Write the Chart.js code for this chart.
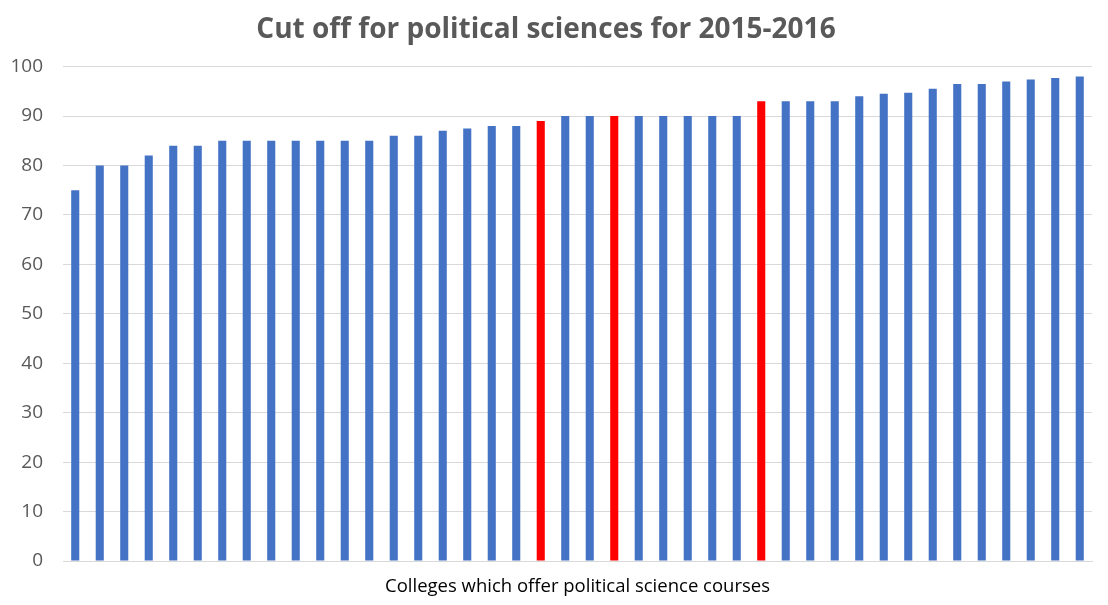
<!DOCTYPE html>
<html>
<head>
<meta charset="utf-8">
<script src="https://cdn.jsdelivr.net/npm/chart.js@4"></script>
<style>
  html, body { margin: 0; padding: 0; background: #fff; }
  #wrap { width: 1108px; height: 605px; }
</style>
</head>
<body>
<div id="wrap"><canvas id="cutoff-canvas" width="1108" height="605"></canvas></div>
<script>
// cut off marks, one bar per college (sorted low to high)
var cutoffs = [75, 80, 80, 82, 84, 84, 85, 85, 85, 85, 85, 85, 85, 86, 86, 87, 87.5, 88, 88,
               89, 90, 90, 90, 90, 90, 90, 90, 90, 93, 93, 93, 93, 94, 94.5, 94.7, 95.5,
               96.5, 96.5, 97, 97.4, 97.7, 98]
// colleges picked out in red
var highlighted = [19, 22, 28]
var yTicks = [0, 10, 20, 30, 40, 50, 60, 70, 80, 90, 100]

function get_label_list(values) {
    labelList = []
    for (let i = 0; i < values.length; i++) {
        labelList.push('College ' + (i + 1))
    }
    return labelList
}

function get_color_list(values) {
    colorList = []
    for (let i = 0; i < values.length; i++) {
        colorList.push(highlighted.indexOf(i) >= 0 ? '#FF0000' : '#4472C4')
    }
    return colorList
}

var ctx = document.getElementById('cutoff-canvas').getContext('2d');
var myChart = new Chart(ctx, {
    type: 'bar',
    data: {
        labels: get_label_list(cutoffs),
        datasets: [{
            label: 'Cut off',
            data: cutoffs,
            backgroundColor: get_color_list(cutoffs),
            barPercentage: 0.33,
            categoryPercentage: 1.0
        }]
    },
    options: {
        responsive: false,
        animation: false,
        layout: { padding: { left: 0, right: 16, top: 0, bottom: 3 } },
        plugins: {
            legend: { display: false },
            tooltip: { enabled: false },
            title: {
                display: true,
                text: 'Cut off for political sciences for 2015-2016',
                color: '#595959',
                font: { family: 'Open Sans', size: 28, weight: 'bold' },
                padding: { top: 13, bottom: 20 }
            }
        },
        scales: {
            x: {
                grid: { display: false },
                border: { color: '#d9d9d9' },
                ticks: { display: false },
                title: {
                    display: true,
                    text: 'Colleges which offer political science courses',
                    color: '#000000',
                    font: { family: 'Open Sans', size: 18.5 }
                },
                afterFit: function (scale) { scale.height = 41 }
            },
            y: {
                min: 0,
                max: 100,
                afterBuildTicks: function (scale) {
                    scale.ticks = yTicks.map(function (v) { return { value: v } })
                },
                grid: { color: '#d9d9d9', drawTicks: false },
                border: { display: false },
                ticks: {
                    color: '#595959',
                    padding: 20,
                    font: { family: 'Open Sans', size: 19 }
                },
                afterFit: function (scale) { scale.width = 63 }
            }
        }
    }
});
</script>
</body>
</html>
